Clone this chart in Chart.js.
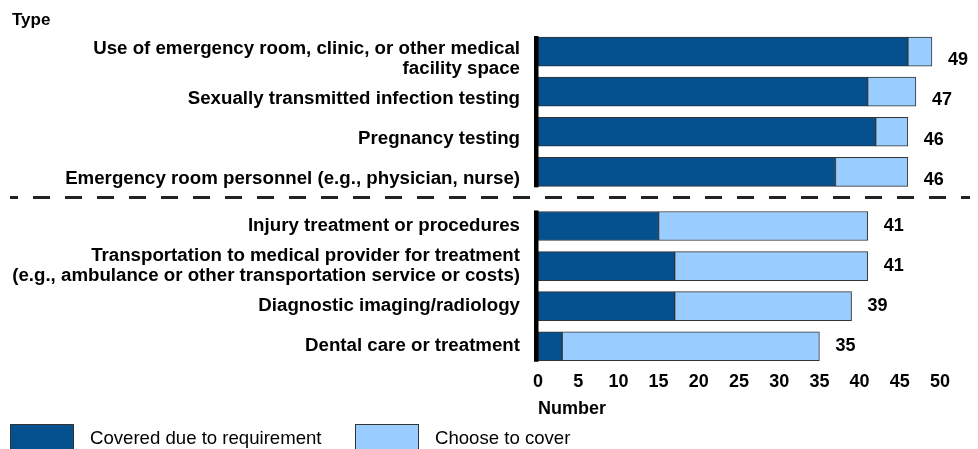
<!DOCTYPE html>
<html><head><meta charset="utf-8">
<script src="https://cdn.jsdelivr.net/npm/chart.js@4/dist/chart.umd.min.js"></script>
<style>html,body{margin:0;padding:0;background:#fff}#wrap{width:978px;height:449px;position:relative;overflow:hidden}</style>
</head><body><div id="wrap"><canvas id="c" width="978" height="449"></canvas></div>
<script>
// ---- data ----
const categories = [
  ["Use of emergency room, clinic, or other medical", "facility space"],
  "Sexually transmitted infection testing",
  "Pregnancy testing",
  "Emergency room personnel (e.g., physician, nurse)",
  "Injury treatment or procedures",
  ["Transportation to medical provider for treatment", "(e.g., ambulance or other transportation service or costs)"],
  "Diagnostic imaging/radiology",
  "Dental care or treatment"
];
const coveredRequired = [46, 41, 42, 37, 15, 17, 17, 3];
const chooseToCover   = [3, 6, 4, 9, 26, 24, 22, 32];
const totals          = [49, 47, 46, 46, 41, 41, 39, 35];
const groupOf         = [0, 0, 0, 0, 1, 1, 1, 1];
const seriesNames     = ["Covered due to requirement", "Choose to cover"];
const xTickValues     = [0, 5, 10, 15, 20, 25, 30, 35, 40, 45, 50];
const axisTitleY      = "Type";
const axisTitleX      = "Number";

// ---- style / layout ----
const FONT = '"Liberation Sans", Arial, Helvetica, sans-serif';
const DARK = '#05508f';
const LIGHT = '#99ccff';
const BORDER = '#333333';
const GROUP_GAP = 0.35;           // extra spacing between the two groups (in category units)
const LABEL_SHIFT = [0.17, 0];    // per-group vertical nudge for category labels
const VALUE_SHIFT = [8, 0];       // per-group vertical nudge for total labels (px)
const pos = i => i + groupOf[i] * GROUP_GAP;

const decor = {
  id: 'decor',
  afterDatasetsDraw(chart) {
    const ctx = chart.ctx, area = chart.chartArea;
    const m0 = chart.getDatasetMeta(0), m1 = chart.getDatasetMeta(1);
    ctx.save();
    // totals
    ctx.font = 'bold 18px ' + FONT;
    ctx.fillStyle = '#000';
    ctx.textAlign = 'left';
    ctx.textBaseline = 'middle';
    totals.forEach((t, i) => {
      const b = m1.data[i];
      ctx.fillText(String(t), b.x + 16, b.y + VALUE_SHIFT[groupOf[i]]);
    });
    // black axis segments per group
    [0, 1].forEach(g => {
      const idx = groupOf.map((v, i) => v === g ? i : -1).filter(i => i >= 0);
      const first = m0.data[idx[0]], last = m0.data[idx[idx.length - 1]];
      const top = first.y - first.height / 2 - 1;
      const bot = last.y + last.height / 2 + 1;
      ctx.fillStyle = '#000';
      ctx.fillRect(area.left - 4, top, 4.5, bot - top);
    });
    // dashed separator
    const yA = m0.data[3].y, yB = m0.data[4].y;
    const ySep = (yA + yB) / 2 - 1.5;
    ctx.beginPath();
    ctx.setLineDash([17, 15]);
    ctx.lineDashOffset = 9;
    ctx.lineWidth = 3;
    ctx.strokeStyle = '#222';
    ctx.moveTo(10, ySep);
    ctx.lineTo(970, ySep);
    ctx.stroke();
    ctx.setLineDash([]);
    // "Type" heading
    ctx.font = 'bold 17px ' + FONT;
    ctx.textBaseline = 'alphabetic';
    ctx.fillStyle = '#000';
    ctx.fillText(axisTitleY, 12, 25);
    // legend
    const items = [{x: 10, tx: 90}, {x: 355, tx: 435}];
    ctx.font = '18.6px ' + FONT;
    ctx.textBaseline = 'middle';
    items.forEach((it, k) => {
      const ds = chart.data.datasets[k];
      ctx.fillStyle = ds.backgroundColor;
      ctx.fillRect(it.x, 424, 64, 32);
      ctx.lineWidth = 1;
      ctx.strokeStyle = BORDER;
      ctx.strokeRect(it.x + 0.5, 424.5, 63, 31);
      ctx.fillStyle = '#000';
      ctx.fillText(ds.label, it.tx, 438.5);
    });
    ctx.restore();
  }
};

new Chart(document.getElementById('c'), {
  type: 'bar',
  data: {
    datasets: [
      { label: seriesNames[0], data: coveredRequired.map((v, i) => ({x: v, y: pos(i)})),
        backgroundColor: DARK, borderColor: BORDER, borderWidth: 1, borderSkipped: false, barThickness: 29 },
      { label: seriesNames[1], data: chooseToCover.map((v, i) => ({x: v, y: pos(i)})),
        backgroundColor: LIGHT, borderColor: BORDER, borderWidth: 1, borderSkipped: false, barThickness: 29 }
    ]
  },
  options: {
    indexAxis: 'y',
    responsive: false,
    animation: false,
    devicePixelRatio: 1,
    layout: { padding: { top: 31.5, right: 38, bottom: 29, left: 0 } },
    plugins: { legend: { display: false }, tooltip: { enabled: false } },
    scales: {
      x: {
        type: 'linear', min: 0, max: 50, stacked: true, offset: false,
        afterBuildTicks: s => { s.ticks = xTickValues.map(v => ({value: v})); },
        afterFit: s => { s.paddingLeft = 0; s.paddingRight = 0; },
        ticks: { font: { family: FONT, size: 18, weight: 'bold' }, color: '#000', padding: 5, maxRotation: 0 },
        grid: { display: false, drawTicks: false },
        border: { display: false },
        title: { display: true, text: axisTitleX, align: 'start', color: '#000',
                 font: { family: FONT, size: 18, weight: 'bold' }, padding: { top: 0.5, bottom: 0 } }
      },
      y: {
        type: 'linear', reverse: true, stacked: true, offset: false,
        min: -0.5, max: pos(categories.length - 1) + 0.5,
        afterBuildTicks: s => { s.ticks = categories.map((c, i) => ({value: pos(i) + LABEL_SHIFT[groupOf[i]]})); },
        afterFit: s => { s.width = 538; s.paddingTop = 0; s.paddingBottom = 0; },
        ticks: { callback: (v, i) => categories[i], autoSkip: false,
                 font: { family: FONT, size: 18.7, weight: 'bold', lineHeight: 1.07 }, color: '#000', padding: 18 },
        grid: { display: false, drawTicks: false, offset: false },
        border: { display: false }
      }
    }
  },
  plugins: [decor]
});
</script>
</body></html>
